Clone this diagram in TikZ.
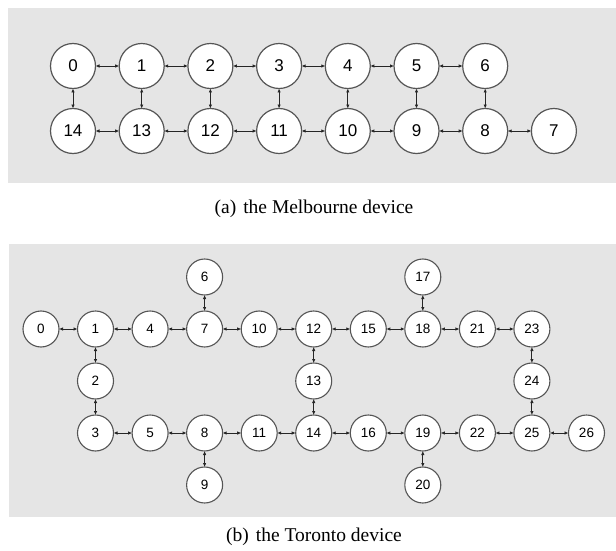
\documentclass[tikz,border=0pt]{standalone}
\usepackage{fontspec}
\setmainfont{Liberation Serif}
\setsansfont{Liberation Sans}
\usepackage{tikz}
\usetikzlibrary{calc,arrows.meta}
\definecolor{panelgray}{HTML}{E5E5E5}
\definecolor{ringgray}{HTML}{555555}

\begin{document}
\begin{tikzpicture}[x=1pt,y=-1pt,inner sep=0pt,outer sep=0pt,
    mq/.style={circle,draw=ringgray,fill=white,line width=1.2pt,minimum size=45pt,
      font=\sffamily\fontsize{17}{19}\selectfont},
    tq/.style={circle,draw=ringgray,fill=white,line width=1.1pt,minimum size=36pt,
      font=\sffamily\fontsize{13.5}{15}\selectfont},
    link/.style={{Latex[length=4pt,width=3.5pt]}-{Latex[length=4pt,width=3.5pt]},line width=0.9pt,black!85}]
    \useasboundingbox (0,0) rectangle (616,551);

    % Melbourne
    \fill[panelgray] (8,8) rectangle (616,183);
    \node[mq] (m0) at (73,66) {0};
    \node[mq] (m1) at (141.7,66) {1};
    \node[mq] (m2) at (210.4,66) {2};
    \node[mq] (m3) at (279.1,66) {3};
    \node[mq] (m4) at (347.8,66) {4};
    \node[mq] (m5) at (416.5,66) {5};
    \node[mq] (m6) at (485.2,66) {6};
    \node[mq] (m14) at (73,131) {14};
    \node[mq] (m13) at (141.7,131) {13};
    \node[mq] (m12) at (210.4,131) {12};
    \node[mq] (m11) at (279.1,131) {11};
    \node[mq] (m10) at (347.8,131) {10};
    \node[mq] (m9) at (416.5,131) {9};
    \node[mq] (m8) at (485.2,131) {8};
    \node[mq] (m7) at (553.9,131) {7};

    \draw[link] (m0) -- (m1);
    \draw[link] (m1) -- (m2);
    \draw[link] (m2) -- (m3);
    \draw[link] (m3) -- (m4);
    \draw[link] (m4) -- (m5);
    \draw[link] (m5) -- (m6);
    \draw[link] (m14) -- (m13);
    \draw[link] (m13) -- (m12);
    \draw[link] (m12) -- (m11);
    \draw[link] (m11) -- (m10);
    \draw[link] (m10) -- (m9);
    \draw[link] (m9) -- (m8);
    \draw[link] (m8) -- (m7);
    \draw[link] (m0) -- (m14);
    \draw[link] (m1) -- (m13);
    \draw[link] (m2) -- (m12);
    \draw[link] (m3) -- (m11);
    \draw[link] (m4) -- (m10);
    \draw[link] (m5) -- (m9);
    \draw[link] (m6) -- (m8);

    \node[font=\fontsize{19.5}{21}\selectfont] (cap_a) at (314,209)
    {(a)\hspace{7pt}the Melbourne device};

    % Toronto
    \fill[panelgray] (9,244) rectangle (616,517);
    \node[tq] (t0) at (41,329) {0};
    \node[tq] (t1) at (95.5,329) {1};
    \node[tq] (t2) at (95.5,381) {2};
    \node[tq] (t3) at (95.5,433) {3};
    \node[tq] (t4) at (150.1,329) {4};
    \node[tq] (t5) at (150.1,433) {5};
    \node[tq] (t6) at (204.6,277) {6};
    \node[tq] (t7) at (204.6,329) {7};
    \node[tq] (t8) at (204.6,433) {8};
    \node[tq] (t9) at (204.6,485) {9};
    \node[tq] (t10) at (259.2,329) {10};
    \node[tq] (t11) at (259.2,433) {11};
    \node[tq] (t12) at (313.7,329) {12};
    \node[tq] (t13) at (313.7,381) {13};
    \node[tq] (t14) at (313.7,433) {14};
    \node[tq] (t15) at (368.3,329) {15};
    \node[tq] (t16) at (368.3,433) {16};
    \node[tq] (t17) at (422.8,277) {17};
    \node[tq] (t18) at (422.8,329) {18};
    \node[tq] (t19) at (422.8,433) {19};
    \node[tq] (t20) at (422.8,485) {20};
    \node[tq] (t21) at (477.4,329) {21};
    \node[tq] (t22) at (477.4,433) {22};
    \node[tq] (t23) at (531.9,329) {23};
    \node[tq] (t24) at (531.9,381) {24};
    \node[tq] (t25) at (531.9,433) {25};
    \node[tq] (t26) at (586.5,433) {26};

    \draw[link] (t0) -- (t1);
    \draw[link] (t1) -- (t4);
    \draw[link] (t4) -- (t7);
    \draw[link] (t7) -- (t10);
    \draw[link] (t10) -- (t12);
    \draw[link] (t12) -- (t15);
    \draw[link] (t15) -- (t18);
    \draw[link] (t18) -- (t21);
    \draw[link] (t21) -- (t23);
    \draw[link] (t3) -- (t5);
    \draw[link] (t5) -- (t8);
    \draw[link] (t8) -- (t11);
    \draw[link] (t11) -- (t14);
    \draw[link] (t14) -- (t16);
    \draw[link] (t16) -- (t19);
    \draw[link] (t19) -- (t22);
    \draw[link] (t22) -- (t25);
    \draw[link] (t25) -- (t26);
    \draw[link] (t1) -- (t2);
    \draw[link] (t2) -- (t3);
    \draw[link] (t6) -- (t7);
    \draw[link] (t8) -- (t9);
    \draw[link] (t12) -- (t13);
    \draw[link] (t13) -- (t14);
    \draw[link] (t17) -- (t18);
    \draw[link] (t19) -- (t20);
    \draw[link] (t23) -- (t24);
    \draw[link] (t24) -- (t25);

    \node[font=\fontsize{19.5}{21}\selectfont] (cap_b) at (314,537)
    {(b)\hspace{7pt}the Toronto device};

\end{tikzpicture}
\end{document}
